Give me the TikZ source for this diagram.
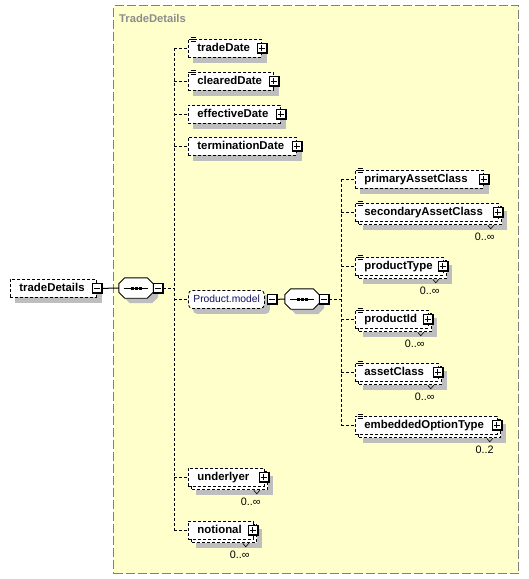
\documentclass[tikz,border=0pt]{standalone}
\usepackage{fontspec}
\setmainfont{Liberation Sans}
\usetikzlibrary{calc}
\definecolor{grpfill}{RGB}{255,255,204}
\definecolor{grpline}{RGB}{128,128,128}
\definecolor{shadowgray}{RGB}{190,190,190}
\definecolor{titlegray}{RGB}{140,140,140}
\definecolor{modeltext}{RGB}{16,16,96}
\pgfdeclarelayer{grplayer}
\pgfdeclarelayer{shadowlayer}
\pgfdeclarelayer{copylayer}
\pgfsetlayers{grplayer,shadowlayer,copylayer,main}
\tikzset{
  boxline/.style={draw=black, line width=0.8pt, dash pattern=on 3pt off 2pt},
  elembox/.style={boxline, fill=white,
    font=\fontsize{11.4}{13}\selectfont\bfseries, inner xsep=9pt, inner ysep=0pt,
    text height=8pt, text depth=2.7pt, anchor=north west},
  modelbox/.style={boxline, fill=white, rounded corners=4pt,
    font=\fontsize{10.3}{12}\selectfont, text=modeltext, inner xsep=5pt, inner ysep=0pt,
    text height=8pt, text depth=2.7pt, minimum height=18pt, anchor=north west},
  pmsq/.style={draw=black, line width=1pt, fill=white, minimum size=9pt, inner sep=0pt},
  pmsign/.style={line width=1pt, black},
  seqbg/.style={minimum width=34pt, minimum height=20pt, inner sep=0pt},
  dconn/.style={line width=0.8pt, dash pattern=on 3pt off 2pt, black},
  solidconn/.style={line width=1pt, black},
  multtext/.style={font=\fontsize{10.8}{12}\selectfont, inner sep=0pt, text=black},
  notchline/.style={line width=0.6pt, black},
}
\newcommand\elemcore[6]{%
  \pgfmathsetmacro\elw{#4-#2-18}%
  \pgfmathsetmacro\elh{#5-#3}%
  \node[elembox,minimum height=\elh pt] (#1) at (#2,#3) {\makebox[\elw pt][l]{#6}};%
}
\newcommand\elemsingle[6]{%
  \elemcore{#1}{#2}{#3}{#4}{#5}{#6}%
  \begin{pgfonlayer}{shadowlayer}
    \fill[shadowgray] ($(#1.north west)+(5,5)$) rectangle ($(#1.south east)+(5,5)$);
  \end{pgfonlayer}%
}
\newcommand\elemmulti[6]{%
  \elemcore{#1}{#2}{#3}{#4}{#5}{#6}%
  \begin{pgfonlayer}{shadowlayer}
    \fill[shadowgray] ($(#1.north west)+(8,8)$) rectangle ($(#1.south east)+(8,8)$);
  \end{pgfonlayer}%
  \begin{pgfonlayer}{copylayer}
    \draw[boxline, fill=white] ($(#1.north west)+(3,3)$) rectangle ($(#1.south east)+(3,3)$);
  \end{pgfonlayer}%
}
\newcommand\pmcore[3]{%
  \coordinate (#1c) at ($(#2)+(#3,0)$);
  \fill[black] ($(#1c)+(-5,-5)$) rectangle ($(#1c)+(6,6)$);
  \node[pmsq] (#1) at (#1c) {};
  \draw[pmsign] ([xshift=-3pt]#1.center) -- ([xshift=3pt]#1.center);
}
\newcommand\plusbox[3]{%
  \pmcore{#1}{#2}{#3}%
  \draw[pmsign] ([yshift=-3pt]#1.center) -- ([yshift=3pt]#1.center);
}
\newcommand\minusbox[3]{\pmcore{#1}{#2}{#3}}
\newcommand\docicon[1]{%
  \draw[line width=0.7pt] ($(#1.north west)+(2.5,-2)$) -- +(5,0)
    ($(#1.north west)+(2.5,0)$) -- +(5,0)
    ($(#1.north west)+(2.5,2)$) -- +(5,0);
}
\newcommand\multlabel[3]{%
  \node[multtext, anchor=east] (#1) at ($(#2.south east)+(-4,15)$) {#3};
  \draw[notchline] ($(#2.south east)+(-11,3.5)$) -- ++(3,3.5) -- ++(3,-3.5);
}
\newcommand\octo[3]{($(#1.north west)+(#2+6,#3)$) -- ($(#1.north east)+(#2-6,#3)$) -- ($(#1.north east)+(#2,#3+6)$) -- ($(#1.south east)+(#2,#3-6)$) -- ($(#1.south east)+(#2-6,#3)$) -- ($(#1.south west)+(#2+6,#3)$) -- ($(#1.south west)+(#2,#3-6)$) -- ($(#1.north west)+(#2,#3+6)$) -- cycle}
\newcommand\seqsym[3]{%
  \node[seqbg] (#1) at (#2,#3) {};
  \begin{pgfonlayer}{shadowlayer}
    \fill[shadowgray] \octo{#1}{5}{5};
  \end{pgfonlayer}
  \draw[line width=0.9pt, fill=white] \octo{#1}{0}{0};
  \draw[line width=1pt] ($(#1.west)+(5,0)$) -- ($(#1.east)+(-5,0)$);
  \foreach \dd in {-4,0,4} \fill ($(#1.center)+(\dd-1.5,-1.5)$) rectangle +(3,3);
}
\begin{document}
\begin{tikzpicture}[x=1pt,y=-1pt]
\useasboundingbox (0,0) rectangle (529,579);
% group container
\begin{pgfonlayer}{grplayer}
\node[draw=grpline, line width=1pt, dash pattern=on 9pt off 3pt, fill=grpfill,
  minimum width=405pt, minimum height=568pt, anchor=north west, inner sep=0pt] (grp) at (113,5) {};
\end{pgfonlayer}
\node[anchor=west, font=\fontsize{11.2}{13}\selectfont\bfseries, text=titlegray, inner sep=0pt] (grptitle) at (119,18) {TradeDetails};

% root
\elemsingle{tradeDetails}{10}{279}{96}{297}{tradeDetails}
\minusbox{m-root}{tradeDetails.east}{0}

% first sequence
\seqsym{seq1}{136}{288}
\minusbox{m-seq1}{seq1.east}{5}

% children of first sequence
\elemsingle{tradeDate}{188}{39}{261}{57}{tradeDate}
\plusbox{p-tradeDate}{tradeDate.east}{0}
\docicon{tradeDate}
\elemsingle{clearedDate}{188}{72}{273}{90}{clearedDate}
\plusbox{p-clearedDate}{clearedDate.east}{0}
\docicon{clearedDate}
\elemsingle{effectiveDate}{188}{105}{280}{123}{effectiveDate}
\plusbox{p-effectiveDate}{effectiveDate.east}{0}
\elemsingle{terminationDate}{188}{137}{296}{155}{terminationDate}
\plusbox{p-terminationDate}{terminationDate.east}{0}

\node[modelbox] (pmodel) at (188,290) {\makebox[66pt][l]{Product.model}};
\begin{pgfonlayer}{shadowlayer}
  \fill[shadowgray, rounded corners=4pt] ($(pmodel.north west)+(5,5)$) rectangle ($(pmodel.south east)+(5,5)$);
\end{pgfonlayer}
\minusbox{m-pmodel}{pmodel.east}{7}

\elemmulti{underlyer}{188}{468}{264}{486}{underlyer}
\plusbox{p-underlyer}{underlyer.east}{-1}
\multlabel{l-underlyer}{underlyer}{0..∞}
\elemmulti{notional}{188}{521}{253}{539}{notional}
\plusbox{p-notional}{notional.east}{-1}
\multlabel{l-notional}{notional}{0..∞}

% second sequence
\seqsym{seq2}{302}{299}
\minusbox{m-seq2}{seq2.east}{5}

\elemsingle{primaryAssetClass}{355}{170}{483}{188}{primaryAssetClass}
\plusbox{p-primaryAssetClass}{primaryAssetClass.east}{0}
\docicon{primaryAssetClass}
\elemmulti{secondaryAssetClass}{355}{203}{498}{221}{secondaryAssetClass}
\plusbox{p-secondaryAssetClass}{secondaryAssetClass.east}{-1}
\docicon{secondaryAssetClass}
\multlabel{l-secondaryAssetClass}{secondaryAssetClass}{0..∞}
\elemmulti{productType}{355}{257}{443}{275}{productType}
\plusbox{p-productType}{productType.east}{-1}
\docicon{productType}
\multlabel{l-productType}{productType}{0..∞}
\elemmulti{productId}{355}{310}{428}{328}{productId}
\plusbox{p-productId}{productId.east}{-1}
\docicon{productId}
\multlabel{l-productId}{productId}{0..∞}
\elemmulti{assetClass}{355}{363}{438}{381}{assetClass}
\plusbox{p-assetClass}{assetClass.east}{-1}
\docicon{assetClass}
\multlabel{l-assetClass}{assetClass}{0..∞}
\elemmulti{embeddedOptionType}{355}{416}{497}{434}{embeddedOptionType}
\plusbox{p-embeddedOptionType}{embeddedOptionType.east}{-1}
\docicon{embeddedOptionType}
\multlabel{l-embeddedOptionType}{embeddedOptionType}{0..2}

% connectors
\draw[solidconn] (m-root.east) -- (seq1.west);
\coordinate (j1) at (174,288);
\coordinate (v1top) at (174,48);
\coordinate (v1bot) at (174,530);
\draw[dconn] (m-seq1.east) -- (j1);
\draw[dconn] (v1top) -- (v1bot);
\foreach \n in {tradeDate,clearedDate,effectiveDate,terminationDate,pmodel,underlyer,notional}
  \draw[dconn] (\n.west -| v1top) -- (\n.west);

\draw[solidconn] (m-pmodel.east) -- (seq2.west);
\coordinate (j2) at (341,299);
\coordinate (v2top) at (341,179);
\coordinate (v2bot) at (341,425);
\draw[dconn] (m-seq2.east) -- (j2);
\draw[dconn] (v2top) -- (v2bot);
\foreach \n in {primaryAssetClass,secondaryAssetClass,productType,productId,assetClass,embeddedOptionType}
  \draw[dconn] (\n.west -| v2top) -- (\n.west);
\end{tikzpicture}
\end{document}
